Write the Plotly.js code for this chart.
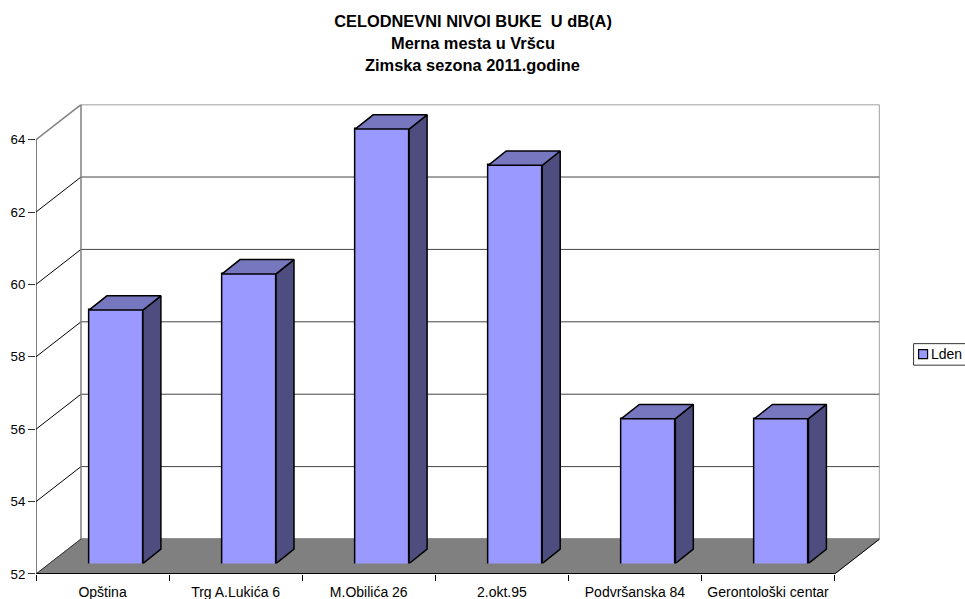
<!DOCTYPE html>
<html><head><meta charset="utf-8">
<script src="https://cdn.plot.ly/plotly-3.0.1.min.js"></script>
<style>html,body{margin:0;padding:0;background:#fff;overflow:hidden}</style>
</head><body><div id="chart" style="width:965px;height:599px"></div>
<script>
const categories = ["Opština","Trg A.Lukića 6","M.Obilića 26","2.okt.95","Podvršanska 84","Gerontološki centar"];
const lden = [59,60,64,63,56,56];
const yTicks = [52,54,56,58,60,62,64];
const titleLines = ["CELODNEVNI NIVOI BUKE\u00a0\u00a0U dB(A)","Merna mesta u Vršcu","Zimska sezona 2011.godine"];
const seriesName = "Lden";

// oblique projection depths, in axis units
const wallDx = 0.338, wallDy = 0.967;
const barDx = 0.135, barDy = 0.395, barW = 0.4055;
const xRange = [-0.5, 5.838], yRange = [52, 64.97];
const xs = categories.map((_, i) => i);
const edges = [-0.5].concat(xs.map(i => i + 0.5));
const L = -0.5, R = 5.5, base = 52, topV = 64;

function line(x, y, color, width, extra){
  return Object.assign({type:'scatter',mode:'lines',x,y,line:{color,width},hoverinfo:'skip',showlegend:false,cliponaxis:false}, extra||{});
}
const traces = [];
// floor
traces.push(line([L,R,R+wallDx,L+wallDx,L],[base,base,base+wallDy,base+wallDy,base],'#808080',1,{fill:'toself',fillcolor:'#808080'}));
// wall grid
yTicks.forEach(t=>{
  const edge = (t===topV||t===base);
  if(t!==base) traces.push(line([L,L+wallDx],[t,t+wallDy], edge?'#808080':'#000',edge?1.5:1));
  traces.push(line([L+wallDx,R+wallDx],[t+wallDy,t+wallDy], edge?'#808080':'#444',edge?1.5:1));
});
traces.push(line([L+wallDx,L+wallDx],[base+wallDy,topV+wallDy],'#808080',1.5));
traces.push(line([R+wallDx,R+wallDx],[base+wallDy,topV+wallDy],'#808080',1.5));
traces.push(line([R,R+wallDx],[base,base+wallDy],'#000',1));
traces.push(line([L,L+wallDx],[base,base+wallDy],'#333',1));
traces.push(line([L,L],[base,topV],'#000',1));
traces.push(line([L,R],[base,base],'#000',2));

// bars, raised on their own axes
const sideX=[],sideY=[],topX=[],topY=[];
lden.forEach((v,i)=>{
  const a=i-barW/2,b=i+barW/2;
  sideX.push(b,b+barDx,b+barDx,b,b,null); sideY.push(base,base+barDy,v+barDy,v,base,null);
  topX.push(a,b,b+barDx,a+barDx,a,null); topY.push(v,v,v+barDy,v+barDy,v,null);
});
traces.push({type:'bar',x:xs,y:lden,width:barW,name:seriesName,xaxis:'x2',yaxis:'y2',marker:{color:'#9999FF',line:{color:'#000',width:1.5}},showlegend:false,
  customdata:categories,hovertemplate:'%{customdata}: %{y}<extra>'+seriesName+'</extra>'});
traces.push(line(sideX,sideY,'#000',1.5,{xaxis:'x2',yaxis:'y2',fill:'toself',fillcolor:'#4D4D80'}));
traces.push(line(topX,topY,'#000',1.5,{xaxis:'x2',yaxis:'y2',fill:'toself',fillcolor:'#7777BF'}));

const tickFont={family:'"Liberation Sans", Arial, sans-serif',size:14,color:'#000'};
const yTickFont={family:'"Liberation Sans", Arial, sans-serif',size:13.3,color:'#000'};
const titleFont={family:'"Liberation Sans", Arial, sans-serif',size:16.4,color:'#000',weight:700};
const layout={
  width:965,height:599,paper_bgcolor:'#fff',plot_bgcolor:'rgba(0,0,0,0)',showlegend:false,bargap:0,
  margin:{l:36,r:71.6,t:94,b:25.3,pad:0,autoexpand:false},
  title:{text:titleLines[0],font:titleFont,xref:'container',yref:'container',x:473/965,y:1-21/599,xanchor:'center',yanchor:'middle'},
  xaxis:{domain:[0,844/857.4],range:xRange,showgrid:false,zeroline:false,showline:false,anchor:'y',
    tickmode:'array',tickvals:xs,ticktext:categories,ticks:'outside',ticklen:5,tickcolor:'rgba(0,0,0,0)',tickfont:tickFont,
    minor:{tickmode:'array',tickvals:edges,ticks:'outside',ticklen:6,tickcolor:'#000',tickwidth:1,showgrid:false}},
  yaxis:{domain:[0,469.2/479.7],range:yRange,showgrid:false,zeroline:false,showline:false,anchor:'x',
    tickmode:'array',tickvals:yTicks,ticktext:yTicks.map(String),ticks:'outside',ticklen:7,tickcolor:'#333',tickfont:yTickFont},
  xaxis2:{domain:[13.4/857.4,1],range:xRange,visible:false,anchor:'y2',fixedrange:true},
  yaxis2:{domain:[10.5/479.7,1],range:yRange,visible:false,anchor:'x2',fixedrange:true},
  annotations:[
    {text:titleLines[1],font:titleFont,xref:'paper',yref:'paper',x:(473-36)/857.4,y:(573.7-43)/479.7,xanchor:'center',yanchor:'middle',showarrow:false},
    {text:titleLines[2],font:titleFont,xref:'paper',yref:'paper',x:(473-36)/857.4,y:(573.7-65)/479.7,xanchor:'center',yanchor:'middle',showarrow:false},
    {text:seriesName,font:tickFont,xref:'paper',yref:'paper',x:(930-36)/857.4,y:(573.7-354)/479.7,xanchor:'left',yanchor:'middle',showarrow:false,borderpad:0,xshift:0}
  ],
  shapes:[
    {type:'rect',xref:'paper',yref:'paper',x0:(914-36)/857.4,x1:(975-36)/857.4,y0:(573.7-365)/479.7,y1:(573.7-343.5)/479.7,line:{color:'#333',width:1},fillcolor:'rgba(0,0,0,0)'},
    {type:'rect',xref:'paper',yref:'paper',x0:(919-36)/857.4,x1:(928-36)/857.4,y0:(573.7-358.5)/479.7,y1:(573.7-349.5)/479.7,line:{color:'#000',width:1.2},fillcolor:'#9999FF'}
  ]
};
Plotly.newPlot('chart',traces,layout,{displayModeBar:false,responsive:false});
</script></body></html>
